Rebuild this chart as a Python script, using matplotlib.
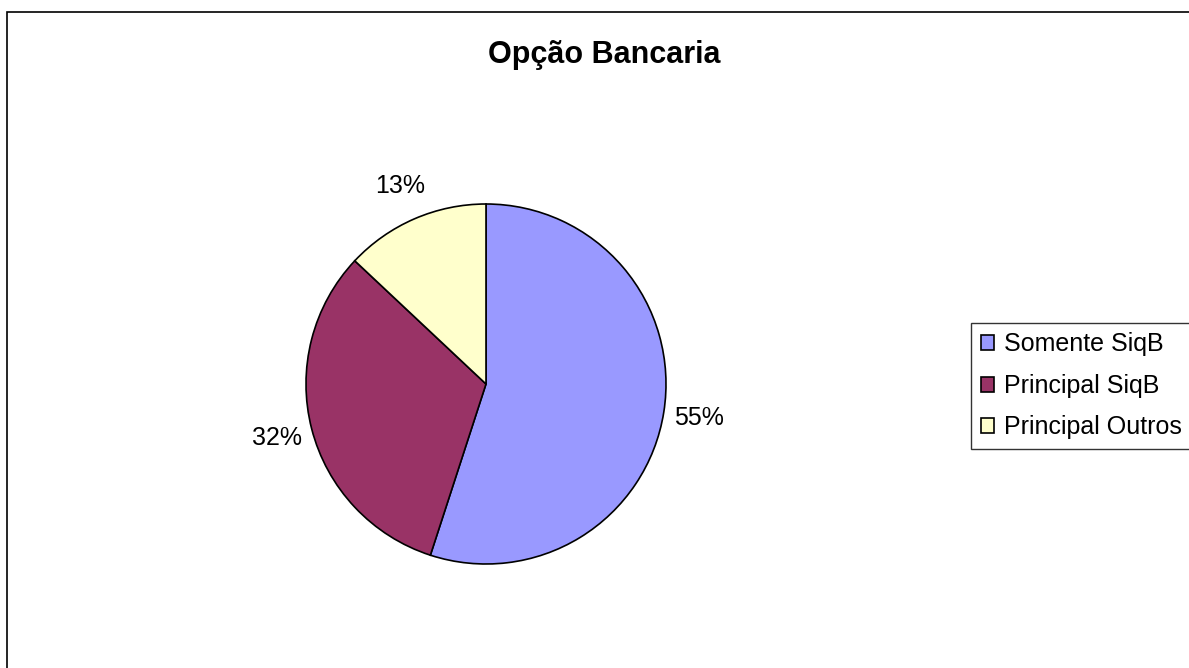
import matplotlib.pyplot as plt
from matplotlib.patches import Rectangle

plt.rcParams['font.family'] = ['Liberation Sans', 'DejaVu Sans']

categories = ["Somente SiqB", "Principal SiqB", "Principal Outros"]
shares = [55, 32, 13]
colors = ["#9999FF", "#993366", "#FFFFCC"]

W, H = 1189, 668
fig = plt.figure(figsize=(W / 100, H / 100), dpi=100)

# outer chart border (cut off at right / bottom like the original)
fig.patches.append(Rectangle((7 / W, -0.1), 1.2, 1 - 12 / H + 0.1,
                             transform=fig.transFigure, fill=False,
                             edgecolor="black", linewidth=1.2))

# pie placed in pixel units: centre (486, 384), radius 180
cx, cy, r = 486, H - 384, 180
ax = fig.add_axes([(cx - r) / W, (cy - r) / H, 2 * r / W, 2 * r / H])
wedges, texts, autotexts = ax.pie(
    shares, colors=colors, startangle=90, counterclock=False,
    autopct="%1.0f%%", pctdistance=1.2, radius=1,
    wedgeprops=dict(edgecolor="black", linewidth=1.2),
    textprops=dict(fontsize=18, color="black"))
ax.set_xlim(-1, 1)
ax.set_ylim(-1, 1)
ax.set_aspect("auto")
ax.axis("off")

fig.text(604 / W, 1 - 55 / H, "Opção Bancaria", ha="center", va="center",
         fontsize=22, fontweight="bold")

leg = fig.legend(wedges, categories, loc="upper left",
                 bbox_to_anchor=(971 / W, 1 - 323 / H), borderaxespad=0,
                 fontsize=18, frameon=True, fancybox=False,
                 handlelength=0.55, handleheight=0.55, handletextpad=0.4,
                 labelspacing=0.7, borderpad=0.38)
leg.get_frame().set_edgecolor("black")
leg.get_frame().set_linewidth(1.0)

fig.savefig("out.png", dpi=100)
